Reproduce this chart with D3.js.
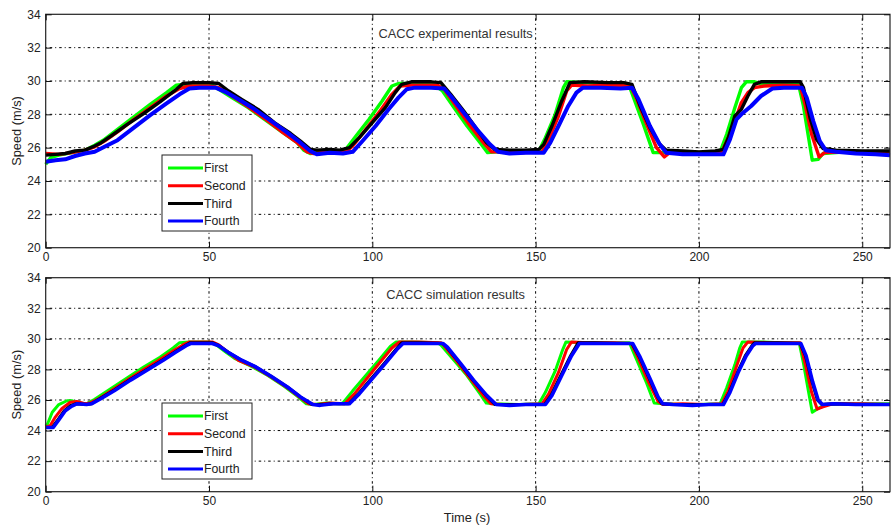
<!DOCTYPE html>
<html>
<head>
<meta charset="utf-8">
<script src="https://cdn.jsdelivr.net/npm/d3@7"></script>
<style>
  body { margin: 0; background: #fff; }
  svg { display: block; font-family: "Liberation Sans", Arial, sans-serif; }
  .tick text { fill: #222; font-size: 12px; }
</style>
</head>
<body>
<div id="chart"></div>
<script>
/* axis ticks */
var xTicks = [0, 50, 100, 150, 200, 250];
var yTicks = [20, 22, 24, 26, 28, 30, 32, 34];
var seriesNames = ["First", "Second", "Third", "Fourth"];
var seriesColors = ["#00ff00", "#ff0000", "#000000", "#0000ff"];

var expFirst = [[0,25.0],[1.5,25.4],[4,25.55],[8,25.7],[12,25.85],[15,26.15],[18,26.5],[22,27.1],[27,27.85],[32,28.6],[37,29.3],[40,29.75],[42,29.8],[47,29.8],[51,29.75],[53,29.5],[57,29.0],[62,28.4],[67,27.7],[72,27.0],[77,26.3],[79,25.85],[81,25.65],[85,25.75],[89,25.8],[91.5,25.8],[95,26.7],[99,27.7],[103,28.8],[106,29.7],[108,29.85],[114,29.85],[119,29.75],[121.5,29.4],[125,28.4],[129,27.3],[133,26.3],[135.3,25.7],[138,25.75],[145,25.8],[151,25.8],[153,26.6],[156,28.0],[158.5,29.6],[159.5,29.95],[165,29.9],[172,29.85],[178.5,29.8],[180,29.0],[183,27.4],[186,25.7],[188,25.7],[195,25.75],[200,25.7],[206.5,25.75],[208.5,26.8],[211,28.4],[213,29.6],[214.5,29.95],[217,29.95],[219,29.85],[225,29.9],[230.5,29.8],[232,28.5],[234.7,25.25],[236.5,25.3],[238,25.65],[245,25.75],[258.5,25.7]];
var expSecond = [[0,25.65],[4,25.6],[8,25.7],[12,25.85],[15,26.05],[18,26.4],[22,26.95],[27,27.7],[32,28.4],[37,29.1],[41,29.55],[44,29.7],[50,29.7],[53,29.6],[57,29.1],[62,28.45],[67,27.75],[72,27.0],[77,26.3],[80,25.75],[82,25.65],[87,25.75],[92,25.75],[94,26.1],[98,27.1],[102,28.1],[106,29.2],[108.5,29.7],[112,29.75],[120,29.75],[122,29.5],[126,28.4],[130,27.3],[134,26.3],[136.5,25.75],[140,25.75],[146,25.7],[152,25.75],[154,26.5],[157,27.9],[159.5,29.4],[161,29.75],[166,29.7],[172,29.75],[179,29.7],[181,28.9],[184,27.4],[187,26.0],[189.4,25.45],[191,25.7],[196,25.75],[202,25.7],[207,25.75],[209,26.6],[211,27.6],[213,28.7],[215,29.3],[217,29.6],[220,29.7],[226,29.75],[231,29.7],[232.5,28.6],[234.5,26.8],[236.8,25.45],[238.5,25.7],[245,25.75],[258.5,25.75]];
var expThird = [[0,25.55],[3,25.6],[6,25.65],[9,25.8],[12,25.85],[15,26.1],[17,26.3],[20,26.7],[25,27.4],[30,28.05],[35,28.75],[40,29.5],[42,29.85],[45,29.9],[50,29.9],[53,29.85],[56,29.4],[60,28.9],[65,28.3],[70,27.5],[75,26.85],[78,26.4],[81,25.9],[83,25.85],[87,25.9],[90,25.85],[93,26.0],[96,26.6],[100,27.5],[104,28.4],[107,29.3],[109,29.8],[112,29.95],[118,29.95],[121,29.9],[124,29.2],[128,28.2],[132,27.1],[135,26.3],[137.5,25.9],[142,25.85],[147,25.85],[151,25.9],[152.5,26.2],[155,27.3],[158,28.8],[160.5,29.9],[165,29.95],[172,29.9],[177,29.9],[179.5,29.8],[182,28.5],[185,27.2],[188,26.2],[190,25.85],[195,25.8],[200,25.75],[205,25.8],[207.5,25.9],[209,26.6],[211,27.9],[213,28.3],[215,29.1],[217,29.8],[219,29.95],[225,29.95],[231,29.95],[232,29.6],[234,27.8],[236,26.5],[238,25.95],[242,25.85],[250,25.8],[258.5,25.8]];
var expFourth = [[0,25.15],[3,25.25],[6,25.3],[9,25.5],[12,25.65],[15,25.75],[18,26.05],[22,26.45],[27,27.2],[32,27.95],[37,28.65],[41,29.2],[44,29.55],[47,29.6],[52,29.6],[55,29.35],[59,28.9],[64,28.3],[69,27.6],[74,26.9],[78,26.3],[81,25.8],[83,25.6],[87,25.7],[91,25.65],[94,25.75],[97,26.4],[101,27.3],[105,28.3],[108,29.0],[110.5,29.5],[113,29.6],[118,29.6],[122,29.55],[124,29.1],[128,28.1],[132,27.1],[136,26.2],[138.5,25.75],[142,25.65],[147,25.7],[152.5,25.7],[154.5,26.3],[157,27.3],[160,28.5],[162.5,29.3],[164.5,29.6],[170,29.6],[176,29.55],[179.5,29.6],[181.5,28.9],[185,27.3],[188,26.2],[190,25.7],[195,25.6],[200,25.6],[207.5,25.6],[209.5,26.5],[211.5,27.7],[213,28.0],[216,28.5],[219,29.1],[222.5,29.55],[226,29.6],[231.5,29.6],[233,29.0],[235,27.6],[237,26.4],[238.8,25.85],[242,25.75],[248,25.65],[254,25.6],[258.5,25.55]];

/* simulation results */
var simFirst = [[0,24.3],[0.5,24.4],[2,25.2],[4,25.7],[6.5,25.95],[8,25.95],[10,25.8],[12.5,25.75],[15,26.05],[20,26.75],[25,27.45],[30,28.15],[35,28.8],[39,29.4],[41,29.75],[44,29.8],[50,29.8],[52,29.65],[55,29.15],[58,28.7],[63,28.2],[68,27.6],[73,26.9],[77,26.25],[79.8,25.75],[82,25.7],[86,25.8],[90,25.75],[91,25.8],[94,26.6],[98,27.6],[102,28.6],[105.5,29.5],[107.3,29.8],[112,29.8],[120,29.75],[121,29.6],[125,28.6],[129,27.6],[133,26.4],[134.9,25.8],[137,25.75],[145,25.7],[151,25.75],[153,26.5],[156,27.9],[158.3,29.3],[159.3,29.8],[165,29.75],[172,29.75],[178.7,29.75],[181,28.6],[184,27.1],[186.3,25.8],[189,25.75],[195,25.7],[200,25.7],[206.5,25.75],[208.5,26.8],[211,28.3],[212.5,29.4],[213.3,29.8],[218,29.8],[225,29.75],[230.7,29.75],[232,28.4],[233.5,26.6],[234.7,25.2],[236.5,25.45],[239,25.7],[245,25.75],[258.5,25.75]];
var simSecond = [[0,24.25],[1.3,24.3],[3,24.9],[5,25.45],[7.5,25.85],[9.5,25.9],[12,25.75],[13.5,25.8],[16,26.05],[20,26.6],[25,27.3],[30,28.0],[35,28.65],[39,29.2],[42,29.6],[44,29.8],[51,29.8],[53,29.6],[56,29.1],[59,28.6],[64,28.15],[69,27.5],[74,26.8],[78,26.15],[80.5,25.75],[83,25.7],[87,25.8],[91.5,25.75],[94.5,26.4],[98.5,27.45],[102.5,28.5],[106,29.4],[108.3,29.8],[114,29.8],[121,29.75],[122,29.55],[126,28.5],[130,27.4],[134,26.3],[136.3,25.75],[140,25.7],[146,25.7],[152,25.75],[154,26.4],[157,27.8],[159.5,29.3],[161,29.8],[166,29.75],[174,29.75],[179.3,29.7],[181.5,28.7],[184.5,27.2],[187.5,25.9],[189,25.7],[195,25.75],[202,25.7],[207,25.75],[209,26.6],[211.5,28.2],[213.5,29.4],[215,29.8],[222,29.75],[231,29.75],[232.5,28.4],[234.5,26.5],[236.2,25.4],[238,25.55],[241,25.75],[250,25.75],[258.5,25.7]];
var simThird = [[0,24.2],[2,24.2],[3.7,24.7],[5.7,25.3],[7.7,25.65],[9.3,25.75],[12.5,25.7],[14,25.75],[17,26.15],[21,26.65],[26,27.35],[31,28.0],[36,28.65],[40,29.2],[43,29.6],[44.3,29.75],[51,29.75],[53,29.55],[56,29.1],[60,28.6],[64,28.2],[69,27.55],[74,26.85],[78,26.2],[81.5,25.7],[84,25.7],[88,25.75],[92.7,25.75],[95.7,26.4],[99.7,27.4],[103.7,28.4],[107.2,29.3],[109,29.75],[115,29.75],[121.5,29.7],[122.8,29.45],[126.8,28.4],[130.8,27.3],[134.8,26.3],[137.6,25.7],[142,25.7],[147,25.7],[152.7,25.7],[154.7,26.3],[157.7,27.6],[160.7,28.9],[163,29.75],[168,29.75],[175,29.7],[179.5,29.7],[181.8,28.8],[184.8,27.4],[187.3,26.2],[188.6,25.75],[192,25.7],[198,25.7],[203,25.7],[207.3,25.7],[209.3,26.5],[211.8,27.8],[214.2,28.9],[216.2,29.55],[217,29.75],[224,29.75],[231,29.7],[232.6,28.9],[234.6,27.2],[236.3,26.0],[237.6,25.7],[241,25.75],[248,25.7],[258.5,25.7]];
var simFourth = [[0,24.2],[2.3,24.2],[4,24.7],[6,25.3],[8,25.6],[9.5,25.75],[12.5,25.7],[14,25.75],[17,26.1],[21,26.6],[26,27.3],[31,27.95],[36,28.6],[40,29.15],[43,29.55],[44.5,29.7],[51,29.7],[53,29.55],[56,29.1],[60,28.6],[64,28.2],[69,27.55],[74,26.85],[78,26.2],[81.8,25.7],[84,25.65],[88,25.75],[93,25.75],[96,26.4],[100,27.4],[104,28.4],[107.5,29.3],[109.4,29.7],[115,29.7],[121.6,29.7],[123,29.45],[127,28.4],[131,27.3],[135,26.3],[137.9,25.7],[142,25.65],[147,25.7],[153,25.7],[155,26.3],[158,27.6],[161,28.9],[163.4,29.7],[168,29.7],[175,29.7],[179.7,29.7],[182,28.8],[185,27.4],[187.5,26.2],[188.9,25.75],[192,25.7],[198,25.65],[203,25.7],[207.5,25.7],[209.5,26.5],[212,27.8],[214.5,28.9],[216.5,29.55],[217.4,29.7],[224,29.7],[231.2,29.7],[232.8,28.9],[234.8,27.2],[236.5,26.0],[237.8,25.7],[241,25.75],[248,25.7],[258.5,25.7]];

var width = 891, height = 528;
var svg = d3.select("#chart").append("svg")
	.attr("width", width)
	.attr("height", height);

/* both panels share the time axis */
var x = d3.scaleLinear().domain([0, 258.5]).range([45.7, 890]);

var panels = [
	{top: 14.3, bottom: 247.7, title: "CACC experimental results",
	 series: [expFirst, expSecond, expThird, expFourth], legendTop: 155, lw: 3.4},
	{top: 277.7, bottom: 491.7, title: "CACC simulation results",
	 series: [simFirst, simSecond, simThird, simFourth], legendTop: 403, lw: 3}
];

panels.forEach(function(p) {
	var y = d3.scaleLinear().domain([20, 34]).range([p.bottom, p.top]);
	var g = svg.append("g");
	var x0 = x.range()[0], x1 = x.range()[1];

	/* dotted grid */
	g.selectAll(".gx").data(xTicks.slice(1)).enter().append("line")
		.attr("x1", function(d) { return x(d); }).attr("x2", function(d) { return x(d); })
		.attr("y1", p.top).attr("y2", p.bottom)
		.style("stroke", "#000").style("stroke-width", 1)
		.style("stroke-dasharray", "1,3,2.5,3");
	g.selectAll(".gy").data(yTicks.slice(1, -1)).enter().append("line")
		.attr("y1", function(d) { return y(d); }).attr("y2", function(d) { return y(d); })
		.attr("x1", x0).attr("x2", x1)
		.style("stroke", "#000").style("stroke-width", 1)
		.style("stroke-dasharray", "1,3,2.5,3");

	/* the four speed curves */
	var line = d3.line()
		.x(function(d) { return x(d[0]); })
		.y(function(d) { return y(d[1]); });
	p.series.forEach(function(s, i) {
		g.append("path")
			.datum(s)
			.attr("d", line)
			.style("fill", "none")
			.style("stroke", seriesColors[i])
			.style("stroke-width", i == 3 ? p.lw + 0.6 : p.lw)
			.style("stroke-linejoin", "round");
	});

	/* box with inward ticks on all sides */
	g.append("rect")
		.attr("x", x0).attr("y", p.top)
		.attr("width", x1 - x0).attr("height", p.bottom - p.top)
		.style("fill", "none").style("stroke", "#222").style("stroke-width", 1.2);

	g.append("g").attr("transform", "translate(0," + p.bottom + ")")
		.call(d3.axisBottom(x).tickValues(xTicks).tickSizeInner(-6).tickSizeOuter(0).tickPadding(5));
	g.append("g").attr("transform", "translate(0," + p.top + ")")
		.call(d3.axisTop(x).tickValues(xTicks).tickSizeInner(-6).tickSizeOuter(0).tickFormat(""));
	g.append("g").attr("transform", "translate(" + x0 + ",0)")
		.call(d3.axisLeft(y).tickValues(yTicks).tickSizeInner(-6).tickSizeOuter(0).tickPadding(5));
	g.append("g").attr("transform", "translate(" + x1 + ",0)")
		.call(d3.axisRight(y).tickValues(yTicks).tickSizeInner(-6).tickSizeOuter(0).tickFormat(""));
	g.selectAll(".domain").remove();
	g.selectAll(".tick line").style("stroke", "#111");

	/* title inside the plot */
	g.append("text")
		.attr("x", x(125.5)).attr("y", y(32.6))
		.attr("text-anchor", "middle")
		.style("font-size", "12.8px").style("fill", "#333")
		.text(p.title);

	/* y label */
	g.append("text")
		.attr("transform", "translate(17," + ((p.top + p.bottom) / 2) + ") rotate(-90)")
		.attr("text-anchor", "middle")
		.attr("dy", "0.35em")
		.style("font-size", "12.8px").style("fill", "#222")
		.text("Speed (m/s)");

	/* legend */
	var lg = g.append("g").attr("transform", "translate(162," + p.legendTop + ")");
	lg.append("rect").attr("width", 90).attr("height", 76)
		.style("fill", "#fff").style("stroke", "#222").style("stroke-width", 1);
	seriesNames.forEach(function(name, i) {
		var ry = 13 + i * 17.7;
		lg.append("line")
			.attr("x1", 6).attr("x2", 41).attr("y1", ry).attr("y2", ry)
			.style("stroke", seriesColors[i]).style("stroke-width", 3);
		lg.append("text")
			.attr("x", 42).attr("y", ry).attr("dy", "0.35em")
			.style("font-size", "12.3px").style("fill", "#222")
			.text(name);
	});
});

svg.append("text")
	.attr("x", x(129)).attr("y", 522)
	.attr("text-anchor", "middle")
	.style("font-size", "12.8px").style("fill", "#222")
	.text("Time (s)");
</script>
</body>
</html>
